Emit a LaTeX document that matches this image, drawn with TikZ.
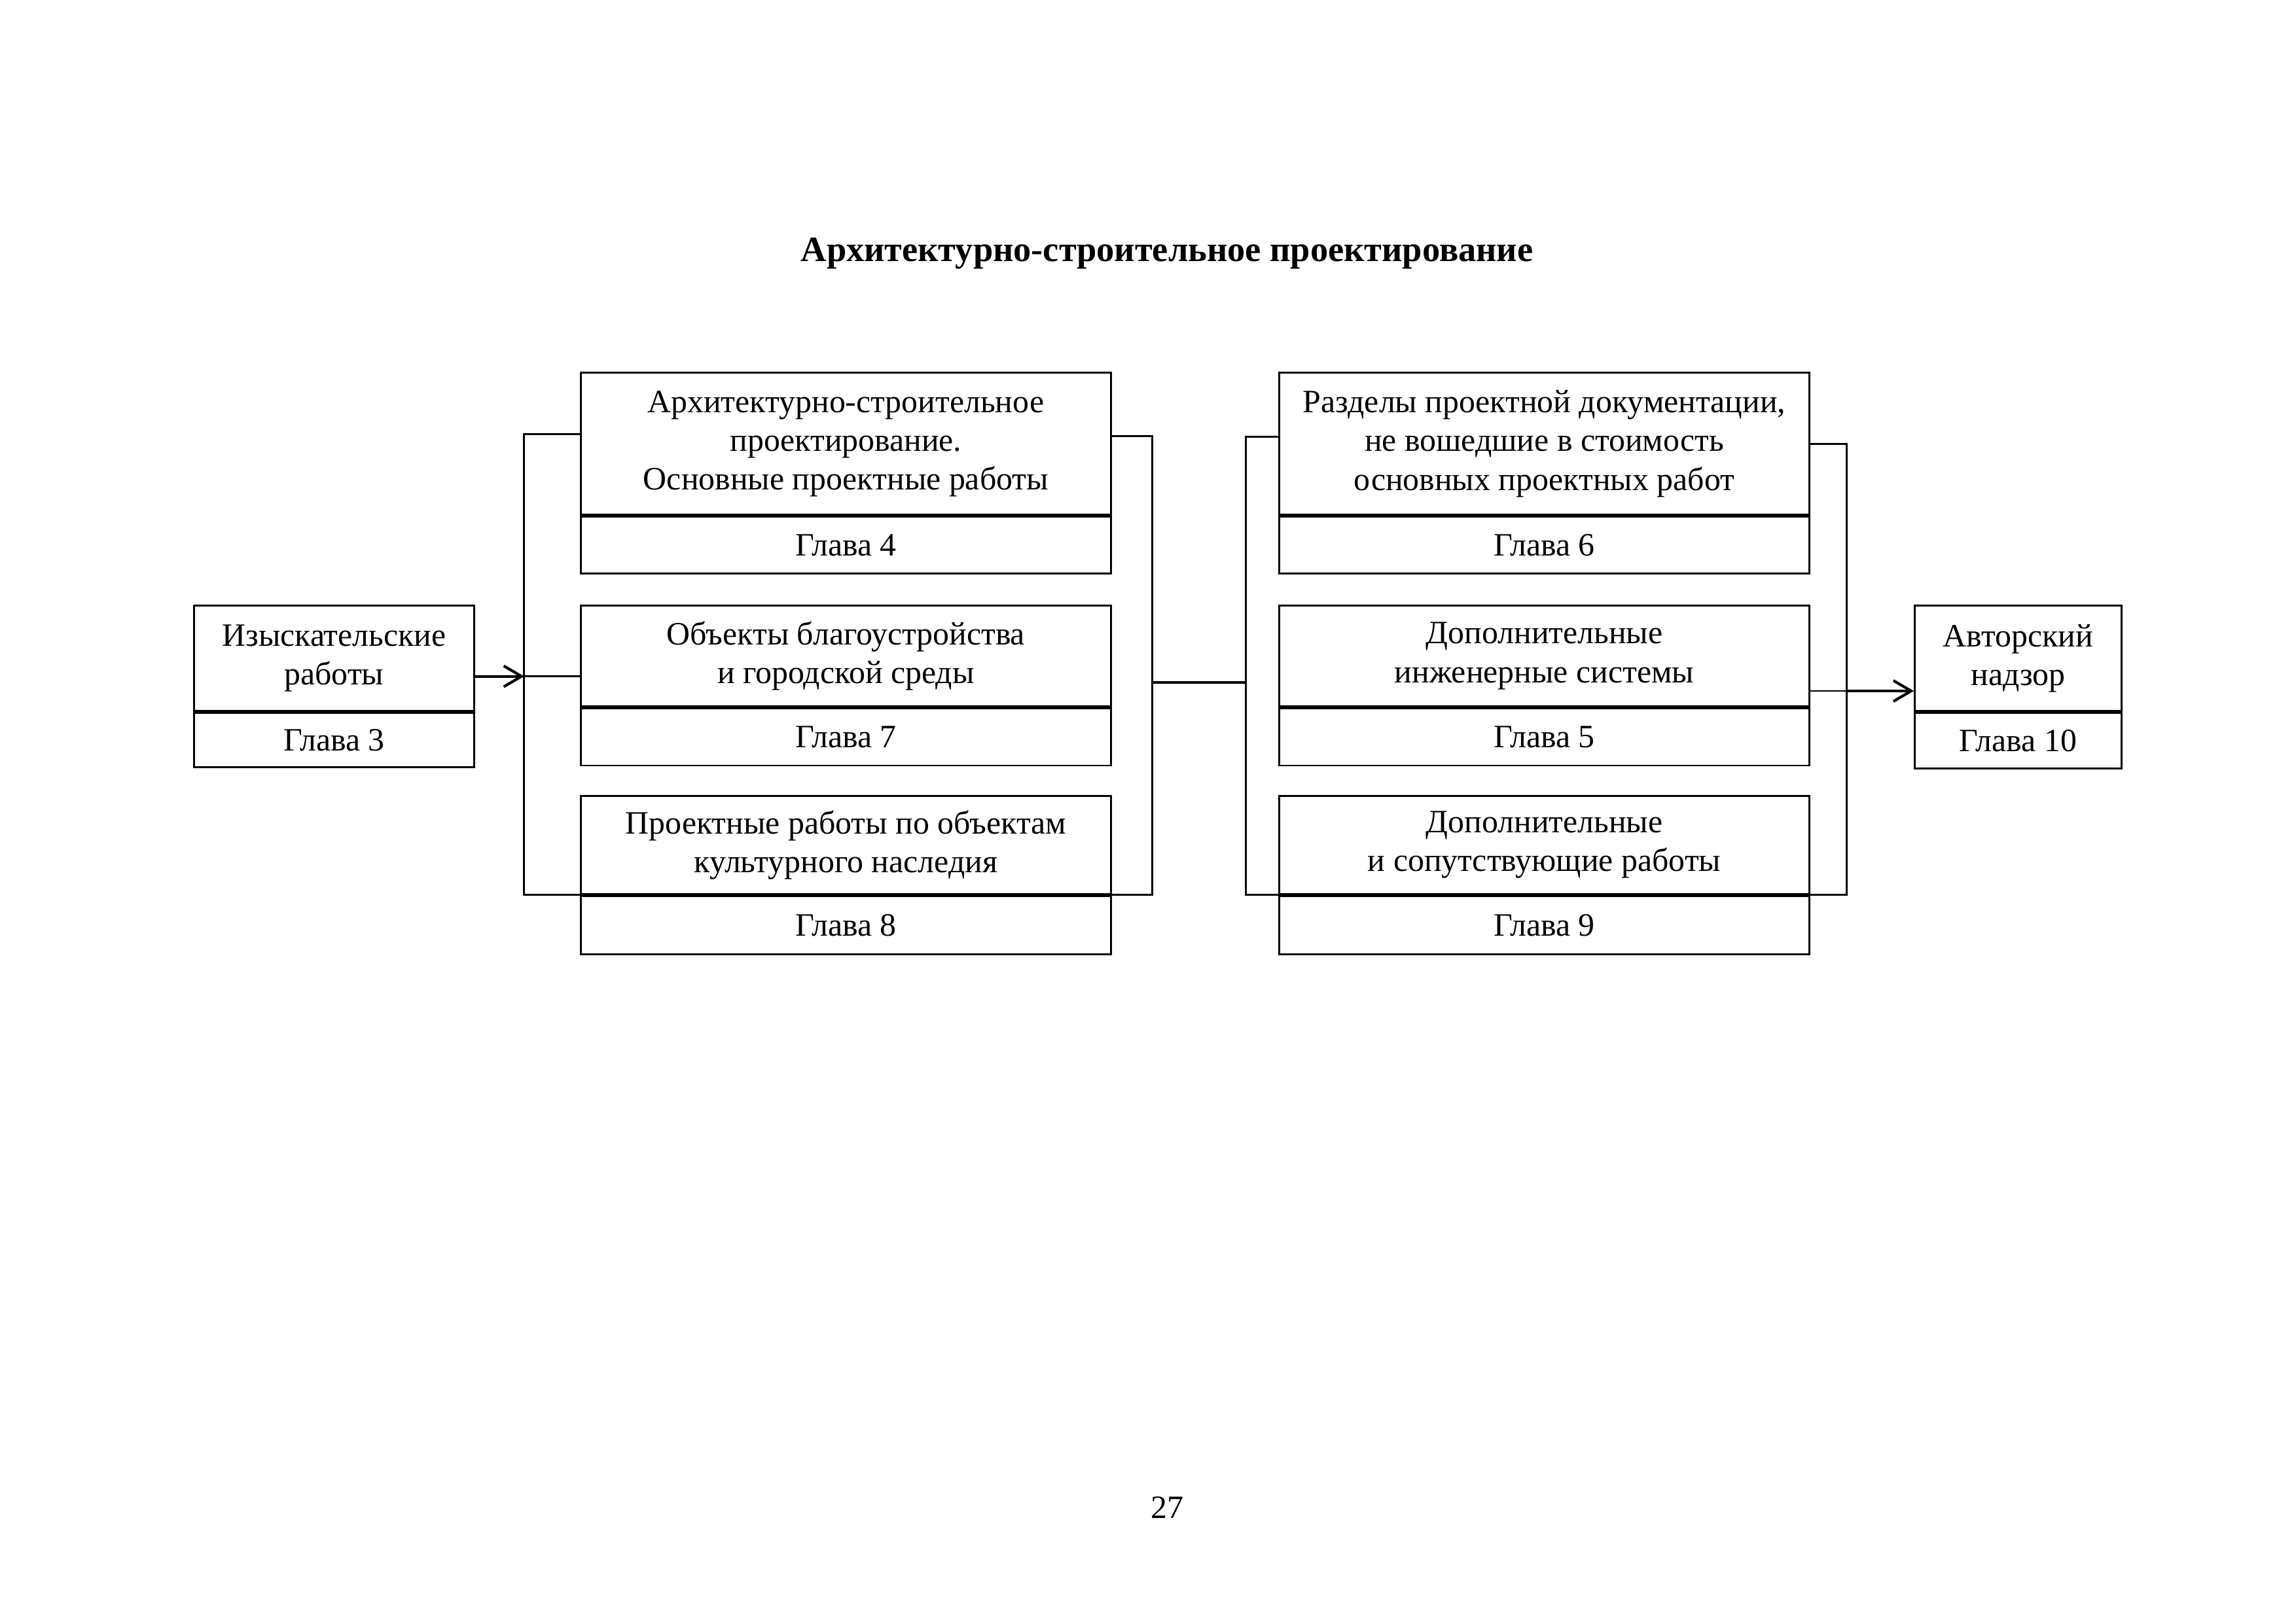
\documentclass[tikz,border=0pt]{standalone}
\usepackage{fontspec}
\setmainfont{Liberation Serif}
\usetikzlibrary{arrows.meta,calc}
\begin{document}
\begin{tikzpicture}[x=0.18941mm,y=-0.18941mm,
  every node/.style={font=\fontsize{12}{14.3}\selectfont},
  cell/.style={draw, line width=0.7pt, inner sep=0pt, align=center, anchor=north west},
  wire/.style={line width=0.7pt},
  thickwire/.style={line width=1pt},
  arr/.style={line width=1pt, -{Straight Barb[length=2.3mm,width=2.7mm,line width=1pt]}}
]
\useasboundingbox (0,0) rectangle (1568,1109);

\node[font=\fontsize{13.1}{15.5}\selectfont\bfseries] (title) at (797,173) {Архитектурно-строительное проектирование};

% left box
\node[cell, minimum width=36.18mm, minimum height=13.64mm] (l3) at (132,413) {Изыскательские\\работы};
\node[cell, minimum width=36.18mm, minimum height=7.01mm] (l3g) at (l3.south west) {Глава 3};

% middle column
\node[cell, minimum width=68.57mm, minimum height=18.37mm] (m4) at (396,254) {Архитектурно-строительное\\проектирование.\\Основные проектные работы};
\node[cell, minimum width=68.57mm, minimum height=7.39mm] (m4g) at (m4.south west) {Глава 4};
\node[cell, minimum width=68.57mm, minimum height=13.07mm] (m7) at (396,413) {Объекты благоустройства\\и городской среды};
\node[cell, minimum width=68.57mm, minimum height=7.39mm] (m7g) at (m7.south west) {Глава 7};
\node[cell, minimum width=68.57mm, minimum height=12.69mm] (m8) at (396,543) {Проектные работы по объектам\\культурного наследия};
\node[cell, minimum width=68.57mm, minimum height=7.58mm] (m8g) at (m8.south west) {Глава 8};

% right column
\node[cell, minimum width=68.57mm, minimum height=18.37mm] (r6) at (873,254) {Разделы проектной документации,\\не вошедшие в стоимость\\основных проектных работ};
\node[cell, minimum width=68.57mm, minimum height=7.39mm] (r6g) at (r6.south west) {Глава 6};
\node[cell, minimum width=68.57mm, minimum height=13.07mm] (r5) at (873,413) {Дополнительные\\инженерные системы};
\node[cell, minimum width=68.57mm, minimum height=7.39mm] (r5g) at (r5.south west) {Глава 5};
\node[cell, minimum width=68.57mm, minimum height=12.69mm] (r9) at (873,543) {Дополнительные\\и сопутствующие работы};
\node[cell, minimum width=68.57mm, minimum height=7.58mm] (r9g) at (r9.south west) {Глава 9};

% final box
\node[cell, minimum width=26.71mm, minimum height=13.64mm] (a10) at (1307,413) {Авторский\\надзор};
\node[cell, minimum width=26.71mm, minimum height=7.2mm] (a10g) at (a10.south west) {Глава 10};

\node (page) at (797,1030) {27};

% connectors
\coordinate (lb) at (358,462);
\coordinate (mb1) at (787,466);
\coordinate (mb2) at (851,466);
\coordinate (rb) at (1261,472);

\draw[arr] (lb -| l3.east) -- (lb);
\draw[wire] ([yshift=1.23mm]m4.west) -| (lb) |- (m8.south west);
\draw[wire] (lb) -- (lb -| m7.west);
\draw[wire] ([yshift=1mm]m4.east) -| (mb1) |- (m8.south east);
\draw[thickwire] (mb1) -- (mb2);
\draw[wire] ([yshift=0.9mm]r6.west) -| (mb2) |- (r9.south west);
\draw[wire] (r6.east) -| (rb) |- (r9.south east);
\draw[wire] (rb -| r5.east) -- (rb);
\draw[arr] (rb) -- (rb -| a10.west);
\end{tikzpicture}
\end{document}
